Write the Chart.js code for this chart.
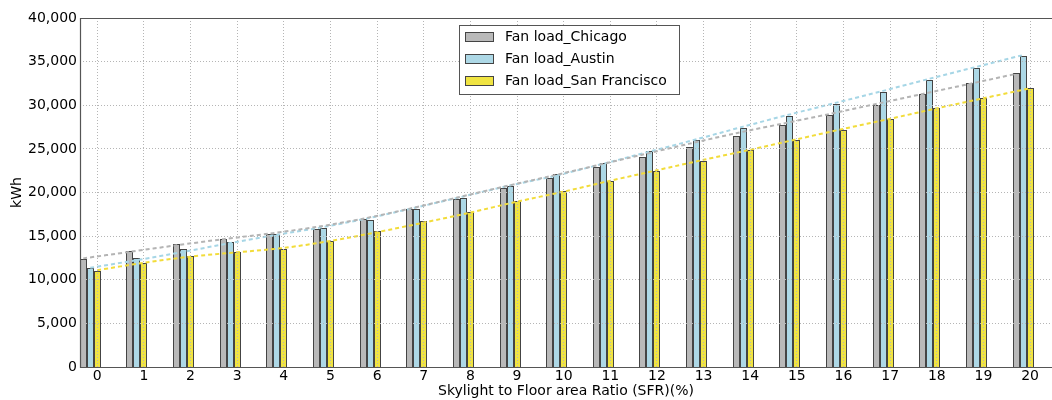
<!DOCTYPE html>
<html>
<head>
<meta charset="utf-8">
<title>Fan load vs SFR</title>
<script src="https://cdn.jsdelivr.net/npm/chart.js@4.4.1/dist/chart.umd.min.js"></script>
<style>
  html, body { margin: 0; padding: 0; background: #ffffff; overflow: hidden; }
  #wrap { width: 1052px; height: 400px; }
</style>
</head>
<body>
<div id="wrap"><canvas id="c" width="1052" height="400"></canvas></div>
<script>
// Skylight to floor area ratio (%) — one group of bars per value
const sfrLabels = ['0','1','2','3','4','5','6','7','8','9','10','11','12','13','14','15','16','17','18','19','20'];
const sfr = [0,1,2,3,4,5,6,7,8,9,10,11,12,13,14,15,16,17,18,19,20];

// Annual fan energy (kWh)
const chicago = [12370,13280,14090,14660,15200,15780,16930,18080,19300,20480,21670,22910,24060,25230,26490,27720,28860,30050,31310,32540,33690];
const austin  = [11370,12450,13510,14280,15200,15900,16880,18080,19380,20750,22090,23370,24750,26070,27440,28820,30130,31500,32880,34270,35670];
const sanFran = [11020,11940,12750,13140,13480,14400,15590,16700,17760,18980,20130,21300,22450,23620,24840,26030,27210,28400,29670,30850,32000];

// Trend curves, one per city
const chicagoTrend = [12450,13200,13950,14650,15300,16050,17000,18150,19400,20650,21850,23100,24350,25600,26800,27900,29000,30150,31300,32450,33600];
const austinTrend  = [11370,12250,13200,14200,15150,16050,17100,18300,19550,20800,21950,23300,24700,26100,27550,28950,30300,31650,33050,34400,35750];
const sanFranTrend = [11100,11950,12650,13150,13650,14450,15450,16550,17700,18950,20100,21350,22550,23750,24900,26100,27300,28450,29650,30800,31950];

const yTicks = [0,5000,10000,15000,20000,25000,30000,35000,40000];

const seriesNames = ['Fan load_Chicago', 'Fan load_Austin', 'Fan load_San Francisco'];
const fills = ['#b9b9b9', '#add8e6', '#f0e442'];
const trendColors = ['#b4b4b4', '#a6d6e6', '#f2dc3a'];
const EDGE = '#444444';

const BAR_W = 0.15;               // width of one bar, in SFR units
const X_MIN = -0.37, X_MAX = 20.47;

Chart.defaults.font.family = "'DejaVu Sans', sans-serif";
Chart.defaults.font.size = 14;
Chart.defaults.color = '#000000';

// the three bars of a group sit left of the tick, San Francisco centred on it
const groupX = sfr.map(v => v - BAR_W);
const pts = (xs, ys) => xs.map((x, i) => ({ x: x, y: ys[i] }));

function barSet(i, values) {
  return {
    type: 'bar', label: seriesNames[i], data: pts(groupX, values),
    backgroundColor: fills[i], borderColor: EDGE, borderWidth: 1,
    borderSkipped: 'start', inflateAmount: 0,
    categoryPercentage: 0.45, barPercentage: 1.0, order: 2
  };
}
function trendSet(i, offset, values) {
  return {
    type: 'line', label: seriesNames[i] + ' trend',
    data: pts(sfr.map(v => v + offset), values),
    borderColor: trendColors[i], borderWidth: 2, borderDash: [4, 3],
    pointRadius: 0, fill: false, tension: 0.3, order: 0
  };
}

// keep bar outlines crisp: snap each bar's edges to whole pixels
const snapBars = {
  id: 'snapBars',
  beforeDatasetsDraw(chart) {
    chart.getSortedVisibleDatasetMetas().forEach(meta => {
      if (meta.type !== 'bar') return;
      meta.data.forEach(el => {
        const left = Math.round(el.x - el.width / 2);
        const right = Math.round(el.x + el.width / 2);
        el.width = right - left;
        el.x = left + el.width / 2;
        el.y = Math.round(el.y);
        el.base = Math.round(el.base);
      });
    });
  }
};

// axes frame (left, bottom, top) and the boxed legend
const framePlugin = {
  id: 'frameAndLegend',
  afterDraw(chart) {
    const { ctx, chartArea: a } = chart;
    ctx.save();
    ctx.strokeStyle = '#555555';
    ctx.lineWidth = 1.2;
    ctx.beginPath();
    ctx.moveTo(a.right, a.top + 0.5);
    ctx.lineTo(a.left + 0.5, a.top + 0.5);
    ctx.lineTo(a.left + 0.5, a.bottom + 0.5);
    ctx.lineTo(a.right, a.bottom + 0.5);
    ctx.stroke();

    // legend
    const bx = 459.5, by = 25.5, bw = 220, bh = 69;
    ctx.fillStyle = '#ffffff';
    ctx.fillRect(bx, by, bw, bh);
    ctx.strokeStyle = '#555555';
    ctx.lineWidth = 1;
    ctx.strokeRect(bx, by, bw, bh);
    ctx.font = "14px 'DejaVu Sans', sans-serif";
    ctx.textBaseline = 'middle';
    ctx.textAlign = 'left';
    seriesNames.forEach((name, i) => {
      const cy = 37 + i * 22.2;
      ctx.fillStyle = fills[i];
      ctx.fillRect(465.5, Math.round(cy - 5) + 0.5, 28, 9);
      ctx.strokeStyle = EDGE;
      ctx.strokeRect(465.5, Math.round(cy - 5) + 0.5, 28, 9);
      ctx.fillStyle = '#000000';
      ctx.fillText(name, 505, cy);
    });
    ctx.restore();
  }
};

new Chart(document.getElementById('c'), {
  type: 'bar',
  data: {
    datasets: [
      barSet(0, chicago), barSet(1, austin), barSet(2, sanFran),
      trendSet(0, -2 * BAR_W, chicagoTrend),
      trendSet(1, -BAR_W, austinTrend),
      trendSet(2, 0, sanFranTrend)
    ]
  },
  options: {
    responsive: false,
    animation: false,
    devicePixelRatio: 1,
    layout: { padding: { top: 18, right: 0, bottom: 0, left: 0 } },
    plugins: { legend: { display: false }, tooltip: { enabled: false } },
    scales: {
      x: {
        type: 'linear', position: 'bottom', min: X_MIN, max: X_MAX, offset: false,
        afterBuildTicks: s => { s.ticks = sfr.map(v => ({ value: v })); },
        afterFit: s => { s.height = 33; },
        ticks: { padding: 1, maxRotation: 0, autoSkip: false,
                 callback: (v, i) => sfrLabels[i] },
        grid: { z: 1, color: '#b5b5b5', lineWidth: 1, drawTicks: false, offset: false },
        border: { display: false, dash: [1, 2] },
        title: { display: true, text: 'Skylight to Floor area Ratio (SFR)(%)',
                 padding: { top: 0, bottom: 0 } }
      },
      y: {
        type: 'linear', position: 'left', min: 0, max: 40000,
        afterBuildTicks: s => { s.ticks = yTicks.map(v => ({ value: v })); },
        afterFit: s => { s.width = 80; },
        ticks: { padding: 3, callback: v => v.toLocaleString('en-US') },
        grid: { z: 1, color: '#b5b5b5', lineWidth: 1, drawTicks: false },
        border: { display: false, dash: [1, 2] },
        title: { display: true, text: 'kWh', padding: { top: 9, bottom: 0 } }
      }
    }
  },
  plugins: [snapBars, framePlugin]
});
</script>
</body>
</html>
